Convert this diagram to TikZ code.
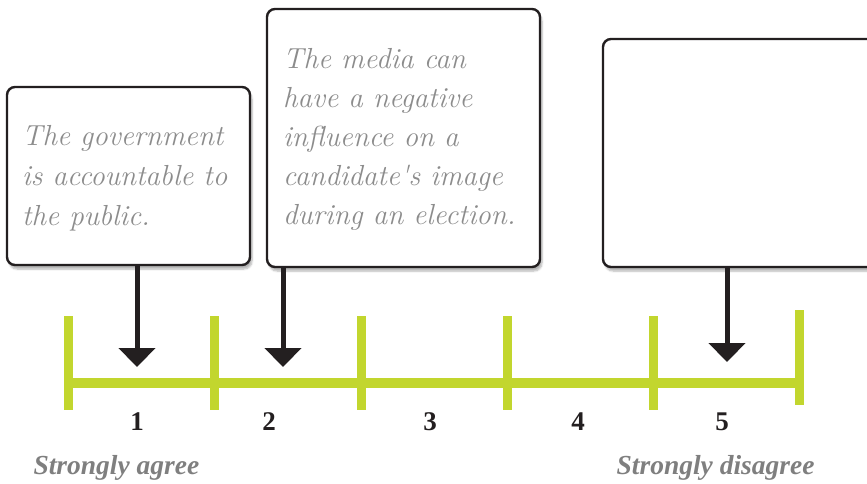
\documentclass[tikz,border=0pt]{standalone}
\usepackage{fontspec}
\setmainfont{Liberation Serif}
\newfontfamily\handfont{Latin Modern Roman}
\usetikzlibrary{arrows.meta,shadows.blur}
\definecolor{scalegreen}{HTML}{C2D62E}
\definecolor{inkdark}{HTML}{231F20}
\definecolor{handgray}{HTML}{8C8C8C}
\definecolor{labelgray}{HTML}{7F7F7F}
\tikzset{
  notecard/.style={draw=inkdark, line width=2.4pt, rounded corners=8pt, fill=white,
    blur shadow={shadow xshift=2pt, shadow yshift=-4pt, shadow opacity=30, shadow blur steps=6}},
  notetext/.style={text=handgray, align=left, inner sep=0pt, anchor=base west},
  pointer/.style={draw=inkdark, line width=5pt, -{Triangle[width=36pt,length=19pt]}},
  tickmark/.style={draw=scalegreen, line width=9pt},
  scaleline/.style={draw=scalegreen, line width=10pt},
  scalenum/.style={font=\bfseries\fontsize{27}{30}\selectfont, text=inkdark, anchor=base},
  endlabel/.style={font=\bfseries\itshape\fontsize{27.5}{30}\selectfont, text=labelgray, anchor=base}
}
\begin{document}
\begin{tikzpicture}[x=1pt,y=-1pt]
\useasboundingbox (0,0) rectangle (867,483);
\clip (0,0) rectangle (867,483);

% opinion cards
\path[notecard] (7,87) rectangle (250,265);
\node (card1) at (128.5,176) [minimum width=243pt, minimum height=178pt, inner sep=0pt] {};
\path[notecard] (267,9) rectangle (540,267);
\node (card2) at (403.5,138) [minimum width=273pt, minimum height=258pt, inner sep=0pt] {};
\path[notecard] (603,39) rectangle (890,267);
\node (card3) at (746.5,153) [minimum width=287pt, minimum height=228pt, inner sep=0pt] {};

% handwritten statements (anchored at the baseline of the last line)
\node[notetext, font=\handfont\itshape\fontsize{29}{40}\selectfont] (text1) at (22,225)
  {The government\\is accountable to\\the public.};
\node[notetext, font=\handfont\itshape\fontsize{29}{39}\selectfont] (text2) at (283,224)
  {The media can\\have a negative\\influence on a\\candidate's image\\during an election.};

% rating scale
\draw[scaleline] (68,383) -- (799,383);
\foreach \x/\t/\b in {68/316/410, 214/316/410, 361/316/410, 507/316/410, 653/316/410, 799/310/405}
  \draw[tickmark] (\x,\t) -- (\x,\b);

\node[scalenum] (n1) at (137,430) {1};
\node[scalenum] (n2) at (269,430) {2};
\node[scalenum] (n3) at (430,430) {3};
\node[scalenum] (n4) at (578,430) {4};
\node[scalenum] (n5) at (722,430) {5};

\node[endlabel, anchor=base west] (agree) at (30,474) {Strongly agree};
\node[endlabel, anchor=base east] (disagree) at (818,474) {Strongly disagree};

% pointers from cards to the scale
\coordinate (tip1) at (137,367);
\coordinate (tip2) at (283,367);
\coordinate (tip3) at (727,362);
\draw[pointer] (card1.south -| tip1) -- (tip1);
\draw[pointer] (card2.south -| tip2) -- (tip2);
\draw[pointer] (card3.south -| tip3) -- (tip3);
\end{tikzpicture}
\end{document}
